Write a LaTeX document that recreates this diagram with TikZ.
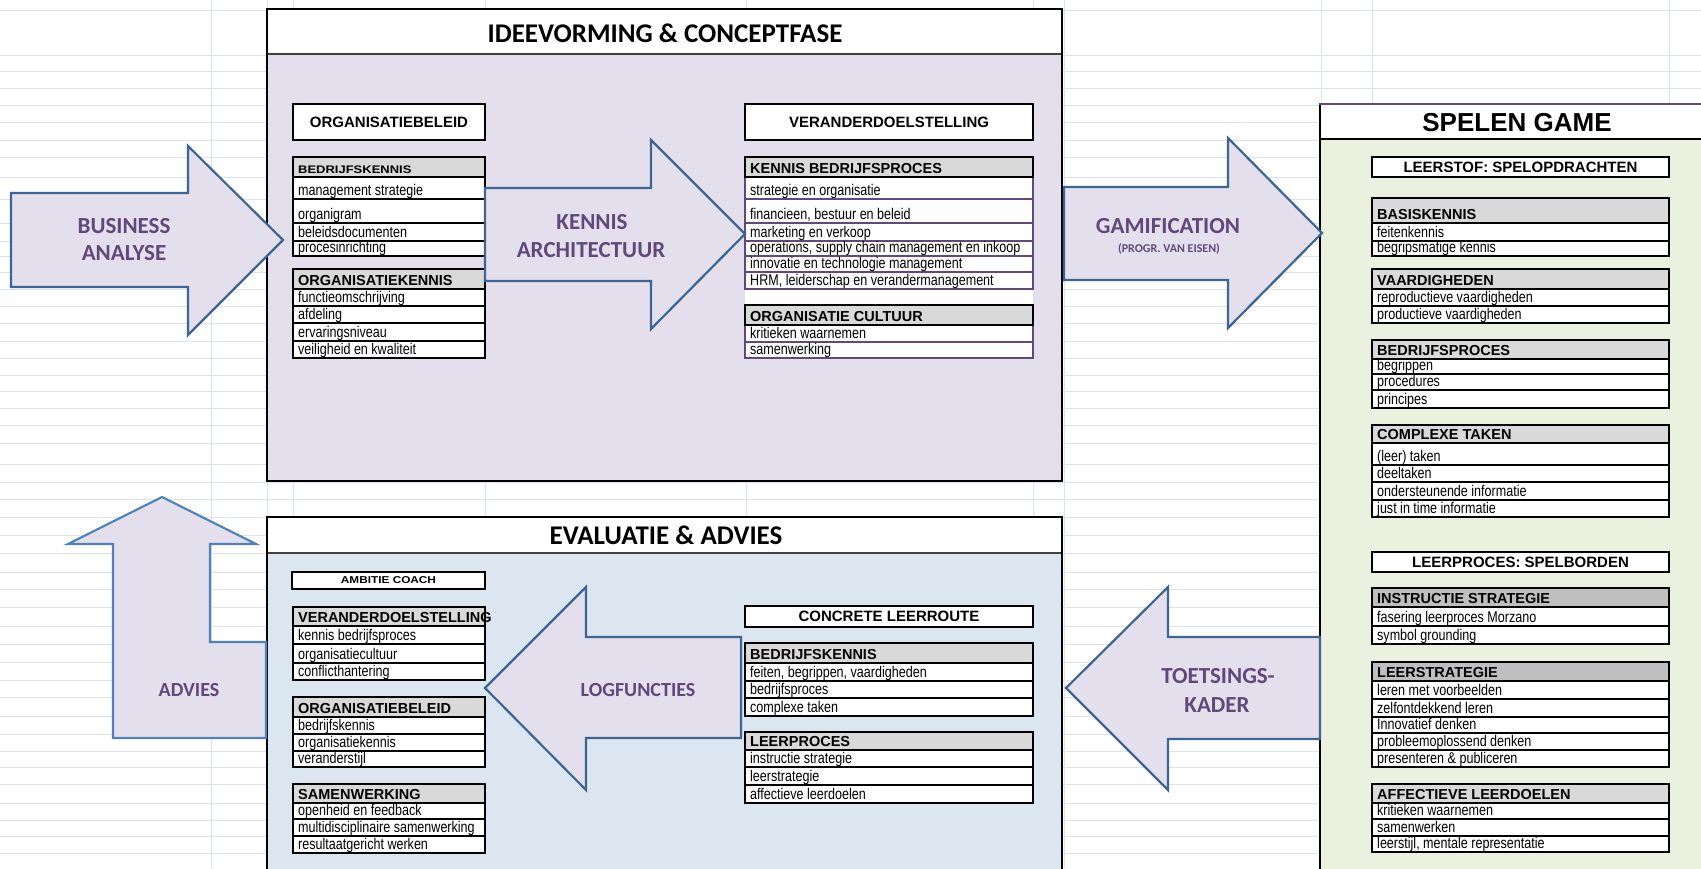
\documentclass[tikz,border=0pt]{standalone}
\usepackage{fontspec}
\setmainfont{Liberation Sans}
\newfontfamily\calfont{Carlito}
\newfontfamily\narrowfont[FakeStretch=0.81]{Liberation Sans}
\newfontfamily\wideboldfont[FakeStretch=1.18]{Liberation Sans}
\newcommand\widehdr{\wideboldfont\bfseries\fontsize{11}{12}\selectfont}

\definecolor{lav}{HTML}{E4DFEC}
\definecolor{iceblue}{HTML}{DCE6F1}
\definecolor{palegreen}{HTML}{EBF1DE}
\definecolor{gridblue}{HTML}{DCE2EE}
\definecolor{arrowline}{HTML}{3D6594}
\definecolor{arrowlight}{HTML}{4F81BD}
\definecolor{arrowtxt}{HTML}{60497A}
\definecolor{hdrgray}{HTML}{D9D9D9}
\definecolor{hdrdark}{HTML}{BFBFBF}
\definecolor{purp}{HTML}{60497A}

% #1 name, #2 left, #3 right, #4 top, #5 header bottom, #6 header, #7 bottom, #8 rows (bottom/text)
\newcommand\datatable[8]{%
  \foreach \rb/\rt [count=\ri, remember=\rb as \rp (initially #5)] in {#8}{%
    \draw[rowline, fill=white] (#2,\rp) rectangle (#3,\rb);
    \node[rowtext] (#1-\ri) at (#2+5,\rb-3.5) {\rt};
  }
  \draw[outerframe] (#2,#4) rectangle (#3,#7);
  \draw[hdrframe, hdr] (#2,#4) rectangle (#3,#5);
  \node[hdrtext] (#1-h) at (#2+5,#5-4) {#6};
}

\begin{document}
\begin{tikzpicture}[x=1pt, y=-1pt,
  gridline/.style={draw=gridblue, line width=1pt},
  mainframe/.style={draw=black, line width=2.6pt},
  sepline/.style={draw=black!75, line width=1.4pt},
  rowline/.style={draw=black, line width=1.5pt},
  outerframe/.style={draw=black, line width=2.4pt},
  hdrframe/.style={draw=black, line width=2.4pt},
  hdr/.style={fill=hdrgray},
  rowtext/.style={anchor=base west, inner sep=0pt, font=\narrowfont\fontsize{15.5}{16}\selectfont},
  hdrtext/.style={anchor=base west, inner sep=0pt, font=\bfseries\fontsize{14.5}{15}\selectfont},
  lblbox/.style={draw=black, line width=2.6pt, fill=white, inner sep=0pt, font=\bfseries\fontsize{15}{16}\selectfont},
  titletext/.style={anchor=base, inner sep=0pt, font=\calfont\bfseries\fontsize{27}{30}\selectfont},
  gametitle/.style={anchor=base, inner sep=0pt, font=\bfseries\fontsize{26}{28}\selectfont},
  blockarrow/.style={fill=lav, draw=arrowline, line width=2.2pt, line join=miter},
  arrowtext/.style={anchor=base, inner sep=0pt, text=arrowtxt, font=\calfont\bfseries\fontsize{23}{25}\selectfont},
  smallarrowtext/.style={arrowtext, font=\calfont\bfseries\fontsize{20}{22}\selectfont},
  notetext/.style={arrowtext, font=\calfont\bfseries\fontsize{12}{13}\selectfont}]

\useasboundingbox (0,0) rectangle (1701,868);
\clip (0,0) rectangle (1701,868);
\fill[white] (0,0) rectangle (1701,868);

% spreadsheet grid
\foreach \gy in {10,55,71,88,105,122,140,157,177,199,223,241,256,272,289,306,323,341,358,375,391,408,425,443,464,482,499,517,535,553,572,589,607,626,644,662,680,697,716,734,751,767,784,803,820,836,853}
  \draw[gridline] (0,\gy) -- (1701,\gy);
\foreach \gx in {211,267,293,485,746,1033,1064,1321,1372,1669}
  \draw[gridline] (\gx,0) -- (\gx,868);

% ---------- IDEEVORMING & CONCEPTFASE ----------
\fill[lav] (267,54) rectangle (1062,481);
\fill[white] (267,9) rectangle (1062,54);
\draw[sepline] (267,54) -- (1062,54);
\draw[mainframe] (267,9) rectangle (1062,481);
\node[titletext] (ideeTitle) at (665,42) {IDEEVORMING \& CONCEPTFASE};

\node[lblbox, minimum width=192pt, minimum height=36pt] (orgbeleid) at (389,122) {ORGANISATIEBELEID};
\node[lblbox, minimum width=288pt, minimum height=36pt] (verdoel) at (889,122) {VERANDERDOELSTELLING};

\datatable{bk}{293}{485}{157}{177}{{\widehdr BEDRIJFSKENNIS}}{256}{199/management strategie, 223/organigram, 241/beleidsdocumenten, 256/procesinrichting}
\datatable{ok}{293}{485}{269}{289}{ORGANISATIEKENNIS}{358}{306/functieomschrijving, 323/afdeling, 341/ervaringsniveau, 358/veiligheid en kwaliteit}

\fill[white] (745,289) rectangle (1033,305);
\begin{scope}[rowline/.style={draw=purp, line width=1.3pt}, outerframe/.style={draw=purp, line width=2pt}]
\datatable{kb}{745}{1033}{157}{177}{KENNIS BEDRIJFSPROCES}{289}{199/strategie en organisatie, 223/{financieen, bestuur en beleid}, 241/marketing en verkoop, 256/{operations, supply chain management en inkoop}, 272/innovatie en technologie management, 289/{HRM, leiderschap en verandermanagement}}
\datatable{oc}{745}{1033}{305}{325}{ORGANISATIE CULTUUR}{358}{342/kritieken waarnemen, 358/samenwerking}
\end{scope}

% ---------- EVALUATIE & ADVIES ----------
\fill[iceblue] (267,553) rectangle (1062,880);
\fill[white] (267,517) rectangle (1062,553);
\draw[sepline] (267,553) -- (1062,553);
\draw[mainframe] (267,880) -- (267,517) -- (1062,517) -- (1062,880);
\node[titletext] (evalTitle) at (666,544) {EVALUATIE \& ADVIES};

\node[lblbox, minimum width=193pt, minimum height=17pt, font=\widehdr\fontsize{10}{11}\selectfont] (ambitie) at (388.5,580.5) {AMBITIE COACH};
\node[lblbox, minimum width=288pt, minimum height=21pt] (concrete) at (889,616.5) {CONCRETE LEERROUTE};

\datatable{vd}{293}{485}{607}{626}{VERANDERDOELSTELLING}{680}{644/kennis bedrijfsproces, 663/organisatiecultuur, 680/conflicthantering}
\datatable{ob}{293}{485}{697}{717}{ORGANISATIEBELEID}{767}{734/bedrijfskennis, 751/organisatiekennis, 767/veranderstijl}
\datatable{sw}{293}{485}{784}{803}{SAMENWERKING}{853}{819/openheid en feedback, 836/multidisciplinaire samenwerking, 853/resultaatgericht werken}

\datatable{ebk}{745}{1033}{643}{663}{BEDRIJFSKENNIS}{716}{681/{feiten, begrippen, vaardigheden}, 698/bedrijfsproces, 716/complexe taken}
\datatable{elp}{745}{1033}{732}{750}{LEERPROCES}{803}{767/instructie strategie, 785/leerstrategie, 803/affectieve leerdoelen}

% ---------- SPELEN GAME ----------
\fill[palegreen] (1320,139) rectangle (1710,880);
\fill[white] (1320,104) rectangle (1710,139);
\draw[line width=2.2pt] (1320,139) -- (1710,139);
\draw[mainframe] (1320,880) -- (1320,104);
\draw[line width=2pt, purp] (1319,104) -- (1710,104);
\node[gametitle] (gameTitle) at (1517,131) {SPELEN GAME};

\node[lblbox, minimum width=297pt, minimum height=20pt] (leerstof) at (1520.5,167) {LEERSTOF: SPELOPDRACHTEN};
\node[lblbox, minimum width=297pt, minimum height=20pt] (leerproces) at (1520.5,562) {LEERPROCES: SPELBORDEN};

\datatable{bas}{1372}{1669}{198}{223}{BASISKENNIS}{256}{241/feitenkennis, 256/begripsmatige kennis}
\datatable{vaa}{1372}{1669}{269}{289}{VAARDIGHEDEN}{323}{306/reproductieve vaardigheden, 323/productieve vaardigheden}
\datatable{bpr}{1372}{1669}{340}{359}{BEDRIJFSPROCES}{408}{374/begrippen, 390/procedures, 408/principes}
\datatable{cta}{1372}{1669}{425}{443}{COMPLEXE TAKEN}{517}{465/(leer) taken, 482/deeltaken, 500/ondersteunende informatie, 517/just in time informatie}
\begin{scope}[hdr/.style={fill=hdrdark}]
\datatable{ins}{1372}{1669}{588}{607}{INSTRUCTIE STRATEGIE}{644}{626/fasering leerproces Morzano, 644/symbol grounding}
\datatable{lst}{1372}{1669}{662}{681}{LEERSTRATEGIE}{767}{699/leren met voorbeelden, 717/zelfontdekkend leren, 733/Innovatief denken, 750/probleemoplossend denken, 767/presenteren \& publiceren}
\end{scope}
\datatable{afl}{1372}{1669}{784}{803}{AFFECTIEVE LEERDOELEN}{852}{819/kritieken waarnemen, 836/samenwerken, 852/{leerstijl, mentale representatie}}

% ---------- block arrows ----------
\filldraw[blockarrow] (11,193) -- (188,193) -- (188,146) -- (283,240) -- (188,335) -- (188,287) -- (11,287) -- cycle;
\node[arrowtext] (ba1) at (124,233.5) {BUSINESS};
\node[arrowtext] (ba2) at (124,260.5) {ANALYSE};

\filldraw[blockarrow] (485,188) -- (651,188) -- (651,140) -- (745,234) -- (651,329) -- (651,281) -- (485,281) -- cycle;
\node[arrowtext] (ka1) at (592,229.5) {KENNIS};
\node[arrowtext] (ka2) at (591,257) {ARCHITECTUUR};

\filldraw[blockarrow] (1064,187) -- (1228,187) -- (1228,138) -- (1322,233) -- (1228,328) -- (1228,280) -- (1064,280) -- cycle;
\node[arrowtext] (gam1) at (1168,233.5) {GAMIFICATION};
\node[notetext] (gam2) at (1169,252.5) {(PROGR. VAN EISEN)};

\filldraw[blockarrow] (1320,637) -- (1168,637) -- (1168,587) -- (1066,688) -- (1168,790) -- (1168,739) -- (1320,739) -- cycle;
\node[arrowtext] (tk1) at (1218,683.5) {TOETSINGS-};
\node[arrowtext] (tk2) at (1217,712.5) {KADER};

\filldraw[blockarrow] (741,637) -- (586,637) -- (586,587) -- (485,688) -- (586,790) -- (586,738) -- (741,738) -- cycle;
\node[smallarrowtext] (log) at (638,696) {LOGFUNCTIES};

\filldraw[blockarrow, draw=arrowlight] (113,738) -- (266,738) -- (266,642) -- (210,642) -- (210,544) -- (256,544) -- (162,497) -- (68,544) -- (113,544) -- cycle;
\node[smallarrowtext] (adv) at (189,696.5) {ADVIES};

\end{tikzpicture}
\end{document}
